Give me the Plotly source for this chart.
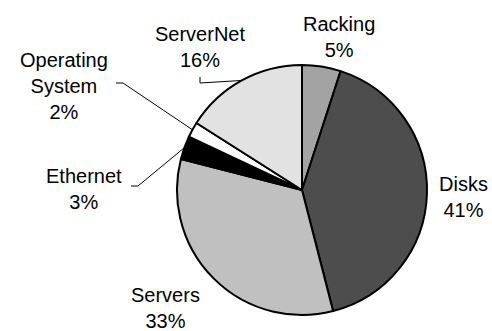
import math
import plotly.graph_objects as go

# Cost breakdown, clockwise from 12 o'clock
categories = ["Racking", "Disks", "Servers", "Ethernet", "Operating<br>System", "ServerNet"]
shares = [5, 41, 33, 3, 2, 16]
colors = ["#a3a3a3", "#4d4d4d", "#c0c0c0", "#000000", "#ffffff", "#e2e2e2"]

W, H = 492, 331
CX, CY, R = 302, 190, 125

fig = go.Figure()
fig.add_trace(go.Pie(
    labels=categories, values=shares, sort=False, direction="clockwise", rotation=0,
    marker=dict(colors=colors, line=dict(color="#000000", width=2)),
    textinfo="none", hoverinfo="label+percent", showlegend=False,
    domain=dict(x=[(CX - R) / W, (CX + R) / W], y=[1 - (CY + R) / H, 1 - (CY - R) / H]),
))

# label block centres (pixels) and optional leader elbows
label_pos = {
    "Racking": (339, 37),
    "Disks": (463, 197),
    "Servers": (165, 308),
    "Ethernet": (84, 189),
    "Operating<br>System": (64, 86),
    "ServerNet": (200, 47),
}
leader_elbows = {
    "Ethernet": [(131, 186), (138, 186)],
    "Operating<br>System": [(116, 83), (123, 83)],
    "ServerNet": [(200, 77), (200, 83)],
}

total = sum(shares)
cum = 0
for name, v in zip(categories, shares):
    pct = round(100 * v / total)
    x, y = label_pos[name]
    fig.add_annotation(x=x / W, y=1 - y / H, xref="paper", yref="paper",
                       text=f"{name}<br>{pct}%", showarrow=False,
                       xanchor="center", yanchor="middle",
                       font=dict(family="Liberation Sans, Arial, sans-serif", size=20, color="#000000"))
    if name in leader_elbows:
        theta = math.radians((cum + v / 2) / total * 360)
        ex, ey = CX + R * math.sin(theta), CY - R * math.cos(theta)
        pts = leader_elbows[name] + [(ex, ey)]
        fig.add_trace(go.Scatter(x=[p[0] for p in pts], y=[p[1] for p in pts],
                                 mode="lines", line=dict(color="#000000", width=1),
                                 hoverinfo="skip", showlegend=False,
                                 xaxis="x", yaxis="y"))
    cum += v

fig.update_layout(
    width=W, height=H, margin=dict(l=0, r=0, t=0, b=0),
    paper_bgcolor="#ffffff", plot_bgcolor="rgba(0,0,0,0)",
    xaxis=dict(range=[0, W], visible=False, domain=[0, 1], fixedrange=True),
    yaxis=dict(range=[H, 0], visible=False, domain=[0, 1], fixedrange=True),
)

fig.write_html("out.html")
